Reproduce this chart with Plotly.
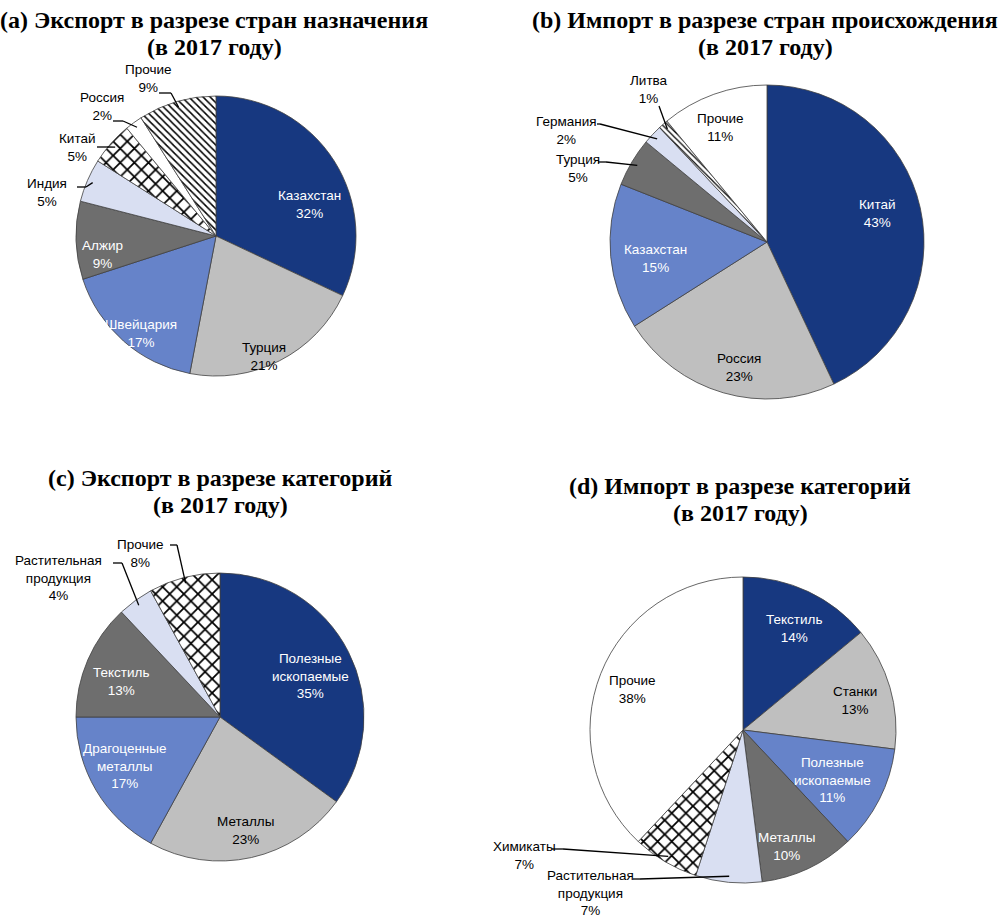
import math
import plotly.graph_objects as go

W, H = 1000, 918

# (a) export by destination country
exp_cty_labels = ["Казахстан", "Турция", "Швейцария", "Алжир", "Индия", "Китай", "Россия", "Прочие"]
exp_cty_values = [32, 21, 17, 9, 5, 5, 2, 9]

# (b) import by country of origin
imp_cty_labels = ["Китай", "Россия", "Казахстан", "Турция", "Германия", "Литва", "Прочие"]
imp_cty_values = [43, 23, 15, 5, 2, 1, 11]

# (c) export by category
exp_cat_labels = ["Полезные<br>ископаемые", "Металлы", "Драгоценные<br>металлы", "Текстиль",
                  "Растительная<br>продукция", "Прочие"]
exp_cat_values = [35, 23, 17, 13, 4, 8]

# (d) import by category
imp_cat_labels = ["Текстиль", "Станки", "Полезные<br>ископаемые", "Металлы",
                  "Растительная<br>продукция", "Химикаты", "Прочие"]
imp_cat_values = [14, 13, 11, 10, 7, 7, 38]

titles = [
    "(a) Экспорт в разрезе стран назначения",
    "(b) Импорт в разрезе стран происхождения",
    "(c) Экспорт в разрезе категорий",
    "(d) Импорт в разрезе категорий",
]
subtitle = "(в 2017 году)"

NAVY = "#173880"
LGRAY = "#bfbfbf"
BLUE = "#6683c9"
DGRAY = "#6e6e6e"
PALE = "#d9dff2"
WHITE = "#ffffff"
DARK_FILLS = (NAVY, BLUE, DGRAY)

LABEL_FONT = "Liberation Sans, Arial, sans-serif"
TITLE_FONT = "Liberation Serif, Times New Roman, serif"

# hatch styles: shape -> (size, solidity)
HATCH = {"": (8, 0.3), "x": (10, 0.32), "\\": (5, 0.3), "d": (4, 0.3)}

# layout of each pie: centre/radius in pixels, fills, patterns, label spots
pies = [
    dict(labels=exp_cty_labels, values=exp_cty_values, cx=216, cy=236, r=140,
         colors=[NAVY, LGRAY, BLUE, DGRAY, PALE, WHITE, WHITE, WHITE],
         patterns=["", "", "", "", "", "x", "", "\\"],
         spots=[(309, 205), (264, 356), (141, 333), (102, 254), (47, 192), (77, 148), (102, 107), (148, 79)],
         leaders={4: (77, 187, 86), 5: (97, 147, 107), 6: (113, 121, 123), 7: (159, 93, 171)},
         title_x=214, title_y=20),
    dict(labels=imp_cty_labels, values=imp_cty_values, cx=767, cy=242, r=157,
         colors=[NAVY, LGRAY, BLUE, DGRAY, PALE, WHITE, WHITE],
         patterns=["", "", "", "", "", "d", ""],
         spots=[(877, 213), (739, 367), (655, 258), (578, 168), (566, 130), (649, 89), (720, 127)],
         leaders={3: (598, 162, 606), 4: (597, 124, 600), 5: (659, 106, 659)},
         title_x=765, title_y=20),
    dict(labels=exp_cat_labels, values=exp_cat_values, cx=220, cy=717, r=144,
         colors=[NAVY, LGRAY, BLUE, DGRAY, PALE, WHITE],
         patterns=["", "", "", "", "", "x"],
         spots=[(310, 676), (245, 830), (125, 766), (121, 681), (58, 578), (140, 553)],
         leaders={4: (113, 563, 122), 5: (170, 545, 177)},
         title_x=220, title_y=478),
    dict(labels=imp_cat_labels, values=imp_cat_values, cx=743, cy=730, r=153,
         colors=[NAVY, LGRAY, BLUE, DGRAY, PALE, WHITE, WHITE],
         patterns=["", "", "", "", "", "x", ""],
         spots=[(794, 628), (855, 700), (832, 780), (786, 846), (590, 893), (524, 855), (632, 689)],
         leaders={4: (633, 879, 640), 5: (552, 849, 563)},
         title_x=740, title_y=486),
]


def px(x):
    return x / W


def py(y):
    return 1 - y / H


fig = go.Figure()
annotations = []
shapes = []

for k, p in enumerate(pies):
    cx, cy, r = p["cx"], p["cy"], p["r"]
    shapes_pat = ["\\" if s == "d" else s for s in p["patterns"]]
    fig.add_trace(go.Pie(
        labels=p["labels"], values=p["values"], sort=False, direction="clockwise", rotation=0,
        textinfo="none", hoverinfo="label+percent", showlegend=False,
        domain=dict(x=[px(cx - r), px(cx + r)], y=[py(cy + r), py(cy - r)]),
        marker=dict(colors=p["colors"], line=dict(color="#404040", width=0.8),
                    pattern=dict(shape=shapes_pat, fgcolor="#000000", bgcolor="#ffffff",
                                 size=[HATCH[s][0] for s in p["patterns"]],
                                 solidity=[HATCH[s][1] for s in p["patterns"]])),
    ))

    total = sum(p["values"])
    cum = 0
    for i, (lab, val) in enumerate(zip(p["labels"], p["values"])):
        mid = (cum + val / 2) / total * 2 * math.pi
        cum += val
        sx, sy = p["spots"][i]
        outside = i in p["leaders"]
        color = "white" if (p["colors"][i] in DARK_FILLS and not outside) else "black"
        annotations.append(dict(
            x=px(sx), y=py(sy), xref="paper", yref="paper", showarrow=False,
            text=f"{lab}<br>{round(val / total * 100)}%", align="center",
            xanchor="center", yanchor="middle",
            font=dict(family=LABEL_FONT, size=13.5, color=color)))
        if outside:
            x0, y0, x1 = p["leaders"][i]
            ex = cx + 0.96 * r * math.sin(mid)
            ey = cy - 0.96 * r * math.cos(mid)
            shapes.append(dict(type="line", xref="paper", yref="paper",
                               x0=px(x0), y0=py(y0), x1=px(x1), y1=py(y0),
                               line=dict(color="black", width=1.3)))
            shapes.append(dict(type="line", xref="paper", yref="paper",
                               x0=px(x1), y0=py(y0), x1=px(ex), y1=py(ey),
                               line=dict(color="black", width=1.3)))

    annotations.append(dict(x=px(p["title_x"]), y=py(p["title_y"]), xref="paper", yref="paper",
                            showarrow=False, text=f"<b>{titles[k]}</b>", xanchor="center", yanchor="middle",
                            font=dict(family=TITLE_FONT, size=24, color="black")))
    annotations.append(dict(x=px(p["title_x"]), y=py(p["title_y"] + 27), xref="paper", yref="paper",
                            showarrow=False, text=f"<b>{subtitle}</b>", xanchor="center", yanchor="middle",
                            font=dict(family=TITLE_FONT, size=24, color="black")))

fig.update_layout(
    width=W, height=H, margin=dict(l=0, r=0, t=0, b=0),
    paper_bgcolor="white", plot_bgcolor="white",
    annotations=annotations, shapes=shapes,
)

fig.write_html("out.html", config={"displayModeBar": False},
               post_script="document.body.style.margin='0px';")
